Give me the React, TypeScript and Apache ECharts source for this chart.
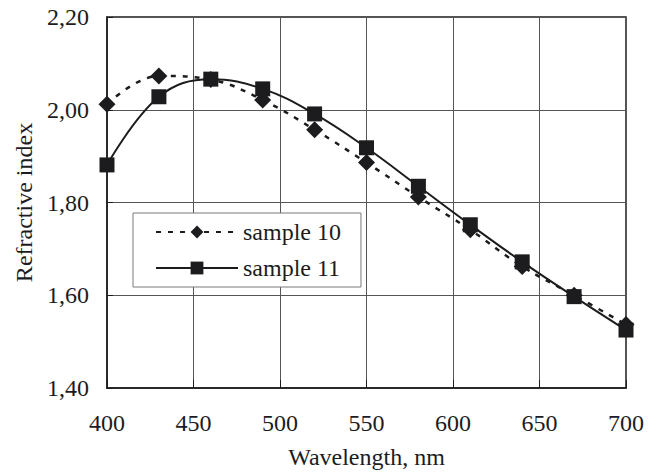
import React, { useEffect, useRef } from "react";
import * as echarts from "echarts";

const wavelengths = [400, 430, 460, 490, 520, 550, 580, 610, 640, 670, 700];
const sample10 = [2.012, 2.073, 2.065, 2.021, 1.957, 1.886, 1.812, 1.741, 1.662, 1.6, 1.537];
const sample11 = [1.881, 2.028, 2.066, 2.045, 1.991, 1.918, 1.835, 1.752, 1.672, 1.597, 1.525];
const seriesNames = ["sample 10", "sample 11"];

const FONT = "Liberation Serif";
const INK = "#1c1c1e";
const FS = 24;

export default function App() {
  const ref = useRef<HTMLDivElement>(null);
  useEffect(() => {
    if (!ref.current) return;
    const chart = echarts.init(ref.current, undefined, { renderer: "svg" });
    const fmt = (v: number) => v.toFixed(2).replace(".", ",");
    chart.setOption({
      animation: false,
      backgroundColor: "#ffffff",
      textStyle: { fontFamily: FONT },
      grid: { left: 107, right: 32, top: 17, bottom: 86, show: true, borderColor: INK, borderWidth: 1.5 },
      legend: {
        orient: "vertical",
        left: 133,
        top: 213,
        padding: [7, 20, 7, 22],
        itemGap: 12,
        itemWidth: 82,
        itemHeight: 16,
        itemTextGap: 6,
        backgroundColor: "#ffffff",
        borderColor: "#7a7a7a",
        borderWidth: 1,
        textStyle: { fontFamily: FONT, fontSize: FS, color: INK, lineHeight: 24 },
        data: seriesNames,
      },
      xAxis: {
        type: "value",
        min: 400,
        max: 700,
        interval: 50,
        name: "Wavelength, nm",
        nameLocation: "middle",
        nameGap: 57,
        nameTextStyle: { fontFamily: FONT, fontSize: FS, color: INK },
        axisLine: { lineStyle: { color: INK, width: 1.5 } },
        axisTick: { show: true, inside: true, length: 8, lineStyle: { color: INK } },
        axisLabel: { fontFamily: FONT, fontSize: FS, color: INK, margin: 23 },
        splitLine: { show: true, lineStyle: { color: "#555", width: 1 } },
      },
      yAxis: {
        type: "value",
        min: 1.4,
        max: 2.2,
        interval: 0.2,
        name: "Refractive index",
        nameLocation: "middle",
        nameGap: 71,
        nameTextStyle: { fontFamily: FONT, fontSize: FS, color: INK },
        axisLine: { show: true, lineStyle: { color: INK, width: 1.5 } },
        axisTick: { show: true, inside: true, length: 6, lineStyle: { color: INK } },
        axisLabel: { fontFamily: FONT, fontSize: FS, color: INK, margin: 18, formatter: fmt },
        splitLine: { show: true, lineStyle: { color: "#555", width: 1 } },
      },
      series: [
        {
          name: seriesNames[0],
          type: "line",
          smooth: 0.4,
          data: wavelengths.map((x, i) => [x, sample10[i]]),
          symbol: "diamond",
          symbolSize: [17, 17],
          itemStyle: { color: INK },
          lineStyle: { color: INK, width: 2.5, type: [5, 7] },
          z: 2,
        },
        {
          name: seriesNames[1],
          type: "line",
          smooth: 0.4,
          data: wavelengths.map((x, i) => [x, sample11[i]]),
          symbol: "rect",
          symbolSize: 15,
          itemStyle: { color: INK },
          lineStyle: { color: INK, width: 2 },
          z: 3,
        },
      ],
    });
    return () => chart.dispose();
  }, []);
  return <div ref={ref} style={{ width: 658, height: 474, position: "absolute", left: 0, top: 0 }} />;
}
